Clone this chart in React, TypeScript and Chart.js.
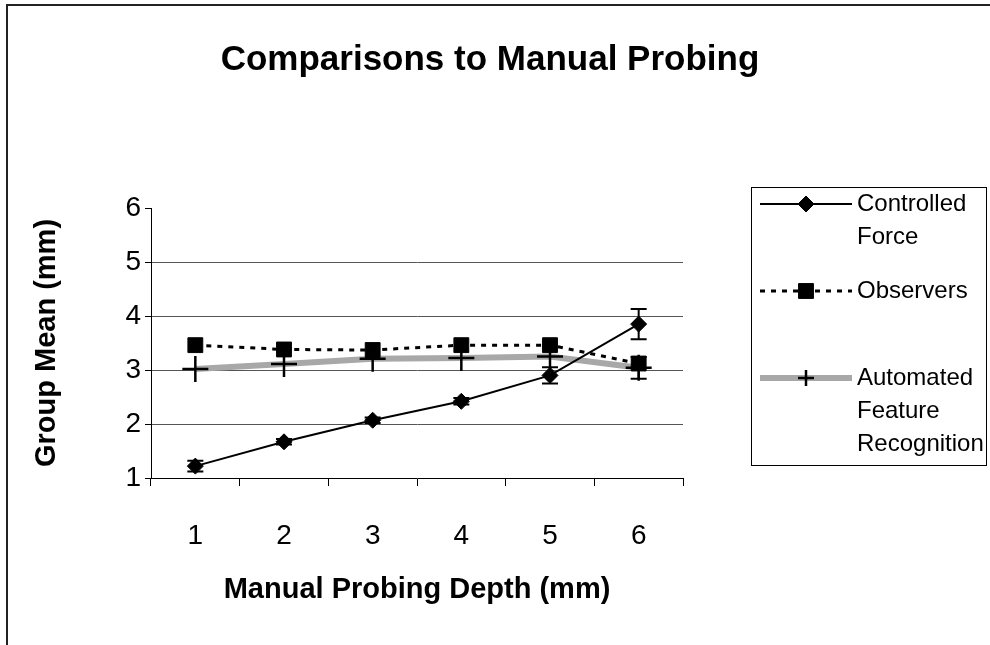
import React, { useEffect, useRef } from 'react';
import { Chart, registerables } from 'chart.js';
import { drawPoint } from 'chart.js/helpers';

Chart.register(...registerables);

// ---------- data ----------
const depthLabels = ['1', '2', '3', '4', '5', '6'];
const controlledForce = [1.22, 1.67, 2.07, 2.42, 2.9, 3.85];
const controlledForceErr = [0.1, 0.05, 0.05, 0.06, 0.15, 0.28];
const observers = [3.46, 3.38, 3.37, 3.46, 3.46, 3.12];
const automated = [3.02, 3.11, 3.21, 3.22, 3.25, 3.04];
const automatedErr = [0, 0, 0, 0, 0, 0.2];
const yMin = 1;
const yMax = 6;
const seriesLabels = [['Controlled', 'Force'], ['Observers'], ['Automated', 'Feature', 'Recognition']];
const chartTitle = 'Comparisons to Manual Probing';
const xTitle = 'Manual Probing Depth (mm)';
const yTitle = 'Group Mean (mm)';

const FONT = "'Liberation Sans', Arial, Helvetica, sans-serif";

// ---------- plugins ----------
const errorBarPlugin = {
  id: 'errorBars',
  afterDatasetsDraw(chart: any) {
    const { ctx } = chart;
    const yScale = chart.scales.y;
    chart.data.datasets.forEach((ds: any, di: number) => {
      const errs = ds.errors;
      if (!errs) return;
      const meta = chart.getDatasetMeta(di);
      ctx.save();
      ctx.strokeStyle = '#000';
      ctx.lineWidth = 2;
      meta.data.forEach((pt: any, i: number) => {
        const e = errs[i];
        if (!e) return;
        const v = ds.data[i];
        const yTop = yScale.getPixelForValue(v + e);
        const yBot = yScale.getPixelForValue(v - e);
        const cap = 8;
        ctx.beginPath();
        ctx.moveTo(pt.x, yTop);
        ctx.lineTo(pt.x, yBot);
        ctx.moveTo(pt.x - cap, yTop);
        ctx.lineTo(pt.x + cap, yTop);
        ctx.moveTo(pt.x - cap, yBot);
        ctx.lineTo(pt.x + cap, yBot);
        ctx.stroke();
      });
      ctx.restore();
    });
  },
};

const LEGEND_BOX = { left: 751, top: 187, right: 986, bottom: 465 };
const LEGEND_ROWS = [204, 291, 378];
const LEGEND_LINE_H = 33;

const customLegendPlugin = {
  id: 'customLegend',
  afterDraw(chart: any) {
    const { ctx } = chart;
    ctx.save();
    ctx.strokeStyle = '#000';
    ctx.lineWidth = 1;
    ctx.strokeRect(
      LEGEND_BOX.left + 0.5,
      LEGEND_BOX.top + 0.5,
      LEGEND_BOX.right - LEGEND_BOX.left,
      LEGEND_BOX.bottom - LEGEND_BOX.top
    );
    const x0 = LEGEND_BOX.left + 9;
    const x1 = LEGEND_BOX.left + 101;
    const xm = (x0 + x1) / 2;
    chart.data.datasets.forEach((ds: any, i: number) => {
      const y = LEGEND_ROWS[i];
      ctx.save();
      ctx.strokeStyle = ds.borderColor;
      ctx.lineWidth = ds.borderWidth;
      ctx.setLineDash(ds.borderDash || []);
      ctx.beginPath();
      ctx.moveTo(x0, y);
      ctx.lineTo(x1, y);
      ctx.stroke();
      ctx.restore();
      ctx.save();
      ctx.fillStyle = ds.pointBackgroundColor;
      ctx.strokeStyle = ds.pointBorderColor;
      ctx.lineWidth = ds.pointBorderWidth;
      drawPoint(ctx, { pointStyle: ds.pointStyle, radius: ds.legendPointRadius, borderWidth: ds.pointBorderWidth, rotation: 0 }, xm, y);
      ctx.restore();
      ctx.fillStyle = '#000';
      ctx.font = `24px ${FONT}`;
      ctx.textBaseline = 'middle';
      ctx.textAlign = 'left';
      seriesLabels[i].forEach((line, li) => {
        ctx.fillText(line, LEGEND_BOX.left + 106, y + li * LEGEND_LINE_H);
      });
    });
    ctx.restore();
  },
};

export default function App() {
  const canvasRef = useRef<HTMLCanvasElement>(null);

  useEffect(() => {
    const canvas = canvasRef.current;
    if (!canvas) return;
    const chart = new Chart(canvas, {
      type: 'line',
      data: {
        labels: depthLabels,
        datasets: [
          {
            label: seriesLabels[0].join(' '),
            data: controlledForce,
            errors: controlledForceErr,
            borderColor: '#000',
            borderWidth: 2,
            pointStyle: 'rectRot',
            pointRadius: 8,
            legendPointRadius: 8,
            pointBackgroundColor: '#000',
            pointBorderColor: '#000',
            pointBorderWidth: 1,
            tension: 0,
          } as any,
          {
            label: seriesLabels[1].join(' '),
            data: observers,
            borderColor: '#000',
            borderWidth: 3,
            borderDash: [5, 6],
            pointStyle: 'rect',
            pointRadius: 10.5,
            legendPointRadius: 10.5,
            pointBackgroundColor: '#000',
            pointBorderColor: '#000',
            pointBorderWidth: 1,
            tension: 0,
          } as any,
          {
            label: seriesLabels[2].join(' '),
            data: automated,
            errors: automatedErr,
            borderColor: '#a8a8a8',
            borderWidth: 6,
            pointStyle: 'cross',
            pointRadius: 13,
            legendPointRadius: 8,
            pointBackgroundColor: '#000',
            pointBorderColor: '#000',
            pointBorderWidth: 2.5,
            tension: 0,
          } as any,
        ],
      },
      options: {
        responsive: false,
        animation: false,
        layout: { padding: { left: 0, right: 10, top: 0, bottom: 0 } },
        plugins: {
          legend: { display: false },
          tooltip: { enabled: false },
          title: {
            display: true,
            text: chartTitle,
            color: '#000',
            font: { family: FONT, size: 35, weight: 'bold' },
            padding: { top: 39, bottom: 127 },
          },
        },
        scales: {
          x: {
            type: 'category',
            offset: true,
            grid: {
              offset: true,
              drawOnChartArea: false,
              drawTicks: true,
              tickLength: 8,
              color: '#000',
              tickColor: '#000',
            },
            border: { color: '#000', width: 1 },
            ticks: { color: '#000', font: { family: FONT, size: 28 }, padding: 33 },
            title: {
              display: true,
              text: xTitle,
              color: '#000',
              font: { family: FONT, size: 29, weight: 'bold' },
              padding: { top: 0, bottom: 38 },
            },
            afterFit: (s: any) => {
              s.height = 167;
            },
          },
          y: {
            type: 'linear',
            min: yMin,
            max: yMax,
            ticks: { stepSize: 1, color: '#000', font: { family: FONT, size: 28 }, padding: 4 },
            grid: {
              tickLength: 6,
              tickColor: '#000',
              color: (c: any) => {
                const v = c.tick && c.tick.value;
                return v > yMin && v < yMax ? '#555' : 'rgba(0,0,0,0)';
              },
            },
            border: { color: '#000', width: 1 },
            title: {
              display: true,
              text: yTitle,
              color: '#000',
              font: { family: FONT, size: 29, weight: 'bold' },
              padding: { top: 30, bottom: 0 },
            },
            afterFit: (s: any) => {
              s.width = 151;
            },
          },
          spacer: {
            type: 'linear',
            position: 'right',
            display: true,
            grid: { display: false },
            ticks: { display: false },
            border: { display: false },
            afterFit: (s: any) => {
              s.width = 297;
            },
          },
        },
      } as any,
      plugins: [errorBarPlugin, customLegendPlugin],
    });
    return () => chart.destroy();
  }, []);

  return (
    <div
      style={{
        position: 'fixed',
        left: 0,
        top: 0,
        width: 990,
        height: 645,
        overflow: 'hidden',
        background: '#fff',
      }}
    >
      <div
        style={{
          position: 'absolute',
          left: 6,
          top: 4,
          width: 1200,
          height: 1000,
          borderLeft: '2px solid #222',
          borderTop: '2px solid #222',
        }}
      />
      <canvas
        ref={canvasRef}
        width={990}
        height={645}
        style={{ position: 'absolute', left: 0, top: 0, width: 990, height: 645 }}
      />
    </div>
  );
}
